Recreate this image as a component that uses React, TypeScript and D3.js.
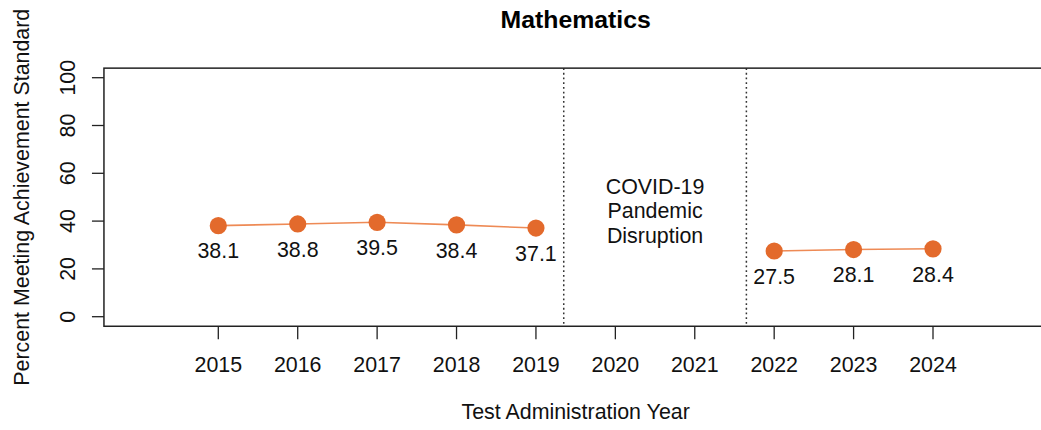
import React from "react";
import * as d3 from "d3";

const years = [2015, 2016, 2017, 2018, 2019, 2020, 2021, 2022, 2023, 2024];
const preYears = [2015, 2016, 2017, 2018, 2019];
const preValues = [38.1, 38.8, 39.5, 38.4, 37.1];
const postYears = [2022, 2023, 2024];
const postValues = [27.5, 28.1, 28.4];
const yTicks = [0, 20, 40, 60, 80, 100];
const disruptionLines = [2019.35, 2021.65];
const disruptionText = ["COVID-19", "Pandemic", "Disruption"];
const title = "Mathematics";
const xLabel = "Test Administration Year";
const yLabel = "Percent Meeting Achievement Standard";

const W = 1041;
const H = 430;
const FONT = "'Liberation Sans', Arial, sans-serif";

export default function App() {
  const x = d3.scaleLinear().domain([2015, 2024]).range([218.3, 933]);
  const y = d3.scaleLinear().domain([0, 100]).range([316.7, 77.7]);
  const xMin = 2013.56, xMax = 2025.44;
  const yMin = -4, yMax = 104;
  const left = x(xMin), right = x(xMax), top = y(yMax), bottom = y(yMin);

  const mk = (ys: number[], vs: number[]) =>
    d3
      .line<number>()
      .x((_, i) => x(ys[i]))
      .y((v) => y(v))(vs) || "";

  const ptColor = "#E36A2C";
  const lineColor = "#EE8A55";

  const fs = 21.4;

  const points = (ys: number[], vs: number[]) =>
    vs.map((v, i) => (
      <g key={ys[i]}>
        <circle cx={x(ys[i])} cy={y(v)} r={8.6} fill={ptColor} />
        <text
          x={x(ys[i])}
          y={y(v) + 25}
          dy="0.36em"
          textAnchor="middle"
          fontSize={fs}
          fill="#111"
        >
          {v.toFixed(1)}
        </text>
      </g>
    ));

  return (
    <svg
      width={W}
      height={H}
      style={{ position: "absolute", left: 0, top: 0, fontFamily: FONT }}
    >
      <rect x={0} y={0} width={W} height={H} fill="#fff" />
      <text
        x={(left + right) / 2}
        y={19}
        dy="0.36em"
        textAnchor="middle"
        fontSize={24.8}
        fontWeight="bold"
        fill="#000"
      >
        {title}
      </text>

      {disruptionLines.map((d) => (
        <line
          key={d}
          x1={x(d)}
          x2={x(d)}
          y1={top}
          y2={bottom}
          stroke="#333"
          strokeWidth={1.5}
          strokeDasharray="1.8 2.9"
        />
      ))}

      <rect
        x={left}
        y={top}
        width={right - left}
        height={bottom - top}
        fill="none"
        stroke="#222"
        strokeWidth={1.5}
      />

      <path d={mk(preYears, preValues)} fill="none" stroke={lineColor} strokeWidth={1.6} />
      <path d={mk(postYears, postValues)} fill="none" stroke={lineColor} strokeWidth={1.6} />
      {points(preYears, preValues)}
      {points(postYears, postValues)}

      {disruptionText.map((t, i) => (
        <text
          key={t}
          x={x(2020.5)}
          y={186 + i * 24.5}
          dy="0.36em"
          textAnchor="middle"
          fontSize={fs}
          fill="#111"
        >
          {t}
        </text>
      ))}

      {years.map((yr) => (
        <g key={yr}>
          <line x1={x(yr)} x2={x(yr)} y1={bottom} y2={bottom + 13} stroke="#222" strokeWidth={1.3} />
          <text x={x(yr)} y={364} dy="0.36em" textAnchor="middle" fontSize={fs} fill="#111">
            {yr}
          </text>
        </g>
      ))}

      {yTicks.map((t) => (
        <g key={t}>
          <line x1={left - 12} x2={left} y1={y(t)} y2={y(t)} stroke="#222" strokeWidth={1.3} />
          <text
            transform={`translate(67.5,${y(t)}) rotate(-90)`}
            dy="0.36em"
            textAnchor="middle"
            fontSize={fs}
            fill="#111"
          >
            {t}
          </text>
        </g>
      ))}

      <text x={(left + right) / 2} y={411} dy="0.36em" textAnchor="middle" fontSize={fs} fill="#111">
        {xLabel}
      </text>
      <text
        transform={`translate(21,${(top + bottom) / 2}) rotate(-90)`}
        dy="0.36em"
        textAnchor="middle"
        fontSize={fs}
        fill="#111"
      >
        {yLabel}
      </text>
    </svg>
  );
}
